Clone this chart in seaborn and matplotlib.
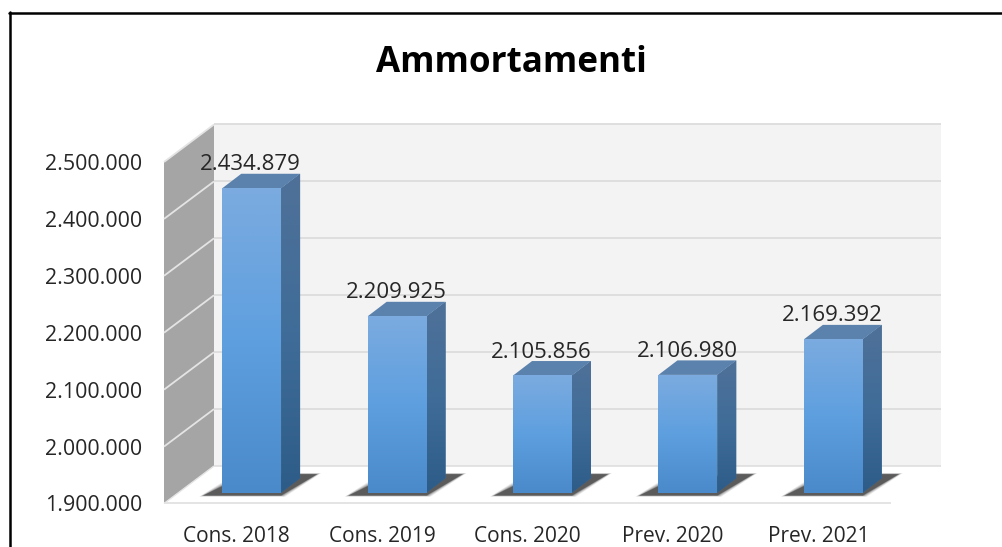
import numpy as np
import matplotlib
matplotlib.use("Agg")
import matplotlib.pyplot as plt
import seaborn as sns
from matplotlib.colors import LinearSegmentedColormap
from matplotlib.lines import Line2D
from matplotlib.patches import Polygon
from matplotlib.ticker import FuncFormatter

categories = ["Cons. 2018", "Cons. 2019", "Cons. 2020", "Prev. 2020", "Prev. 2021"]
values = [2434879, 2209925, 2105856, 2106980, 2169392]
y_ticks = [1900000, 2000000, 2100000, 2200000, 2300000, 2400000, 2500000]
title = "Ammortamenti"

W, H = 1002, 547
L, R, T, B = 164, 891, 162, 503.5   # pixel box of the front plane
FONT = "Open Sans"
TXT = "#262626"

sns.set_theme(style="white")
plt.rcParams["font.family"] = [FONT, "DejaVu Sans"]

fig = plt.figure(figsize=(W / 100, H / 100), dpi=100, facecolor="white")
ax = fig.add_axes([L / W, 1 - B / H, (R - L) / W, (B - T) / H])
ax.patch.set_visible(False)

sns.barplot(x=categories, y=values, width=0.405, color="#5B9BD5", ax=ax,
            saturation=1, zorder=5, linewidth=0)
ymin, ymax = y_ticks[0], y_ticks[-1]
xmin, xmax = -0.5, len(categories) - 0.5
ax.set_xlim(xmin, xmax)
ax.set_ylim(ymin, ymax)

# pixel -> data conversion for the oblique projection
px = (xmax - xmin) / (R - L)
py = (ymax - ymin) / (B - T)
WALL_X, WALL_Y = 50 * px, 37.5 * py        # depth of the whole box
GAP_X, GAP_Y = 15.0 * px, 10.8 * py        # front of the bars inside the box
DEP_X, DEP_Y = 19.0 * px, 14.5 * py        # depth of one bar


def poly(pts, **kw):
    kw.setdefault("clip_on", False)
    p = Polygon(pts, closed=True, linewidth=kw.pop("lw", 0), **kw)
    ax.add_patch(p)
    return p


def line(xs, ys, **kw):
    ax.plot(xs, ys, clip_on=False, solid_capstyle="butt", **kw)


# walls and floor
poly([(xmin + WALL_X, ymin + WALL_Y), (xmax + WALL_X, ymin + WALL_Y),
      (xmax + WALL_X, ymax + WALL_Y), (xmin + WALL_X, ymax + WALL_Y)],
     facecolor="#F3F3F3", zorder=1)
poly([(xmin, ymin), (xmin + WALL_X, ymin + WALL_Y),
      (xmin + WALL_X, ymax + WALL_Y), (xmin, ymax)],
     facecolor="#A5A5A5", zorder=1)
for t in y_ticks:
    line([xmin + WALL_X, xmax + WALL_X], [t + WALL_Y] * 2, color="#DCDCDC", lw=1.3, zorder=2)
    if t != ymin:
        line([xmin, xmin + WALL_X], [t, t + WALL_Y], color="#E4E4E4", lw=1.3, zorder=2)
poly([(xmin, ymin), (xmax, ymin), (xmax + WALL_X, ymin + WALL_Y), (xmin + WALL_X, ymin + WALL_Y)],
     facecolor="white", zorder=2.5)
line([xmin + WALL_X, xmax + WALL_X], [ymin + WALL_Y] * 2, color="#E2E2E2", lw=1.3, zorder=2.6)
line([xmin, xmax], [ymin, ymin], color="#E2E2E2", lw=1.3, zorder=2.6)
line([xmin, xmin + WALL_X], [ymin, ymin + WALL_Y], color="#E4E4E4", lw=1.0, zorder=2.6)

cm_front = LinearSegmentedColormap.from_list("f", ["#7BABDF", "#5E9FDF", "#4A8ACB"])
cm_side = LinearSegmentedColormap.from_list("s", ["#4F7198", "#3F6C98", "#2E5C88"])
ramp = np.linspace(0, 1, 128).reshape(-1, 1)

for bar, v in zip(ax.patches, values):
    x0 = bar.get_x() + GAP_X
    x1 = x0 + bar.get_width()
    y0 = ymin + GAP_Y
    y1 = v + GAP_Y
    bar.set_visible(False)

    # soft floor shadow
    for grow, a in zip([4, 2.8, 1.6, 0.6, 0], [0.10, 0.16, 0.22, 0.30, 0.42]):
        poly([(x0 - (19 + grow) * px, y0 - (2.8 + grow * .3) * py),
              (x1 + grow * px, y0 - (2.8 + grow * .3) * py),
              (x1 + (36 + grow) * px, y0 + (18.5 + grow * .3) * py),
              (x1 + (14 - grow) * px, y0 + (18.5 + grow * .3) * py),
              (x0, y0 + (6.5 + grow) * py)],
             facecolor="#2A2A2A", alpha=a, zorder=3)

    # side face
    side = poly([(x1, y0), (x1 + DEP_X, y0 + DEP_Y), (x1 + DEP_X, y1 + DEP_Y), (x1, y1)],
                facecolor="#3F6C98", zorder=5)
    im = ax.imshow(ramp, cmap=cm_side, aspect="auto", origin="upper", zorder=5.1,
                   extent=(x1, x1 + DEP_X, y0, y1 + DEP_Y), interpolation="bilinear")
    im.set_clip_path(side)
    im.set_clip_box(fig.bbox)
    # top face
    poly([(x0, y1), (x1, y1), (x1 + DEP_X, y1 + DEP_Y), (x0 + DEP_X, y1 + DEP_Y)],
         facecolor="#5B82AD", zorder=5.2)
    # front face
    im = ax.imshow(ramp, cmap=cm_front, aspect="auto", origin="upper", zorder=5.3,
                   extent=(x0, x1, y0, y1), interpolation="bilinear")
    im.set_clip_box(fig.bbox)

    ax.annotate(f"{v:,}".replace(",", "."), xy=((x0 + x1) / 2 - 1 * px, y1), xytext=(0, 23.5 * 0.72),
                textcoords="offset points", ha="center", va="center", fontsize=16,
                color=TXT, zorder=8, annotation_clip=False)

ax.set_xlim(xmin, xmax)
ax.set_ylim(ymin, ymax)
ax.set_yticks(y_ticks)
ax.yaxis.set_major_formatter(FuncFormatter(lambda v, _: f"{int(v):,}".replace(",", ".")))
ax.tick_params(axis="y", length=0, pad=15.5, labelsize=15.4, labelcolor=TXT)
ax.tick_params(axis="x", length=0, pad=16.5, labelsize=15, labelcolor=TXT)
for lbl in ax.get_yticklabels():
    lbl.set_va("center_baseline")
ax.set_xlabel("")
ax.set_ylabel("")
sns.despine(ax=ax, left=True, bottom=True, top=True, right=True)

fig.text(511 / W, 1 - 63.5 / H, title, ha="center", va="center", fontsize=25.2,
         fontweight="bold", color="#000000", family=FONT)

# outer chart frame (top and left edges only are in the crop)
fig.add_artist(Line2D([9 / W, 1], [1 - 12.5 / H] * 2, color="black", lw=1.8))
fig.add_artist(Line2D([9.5 / W] * 2, [1 - 12 / H, 0], color="black", lw=1.8))

fig.savefig("out.png", dpi=100)
